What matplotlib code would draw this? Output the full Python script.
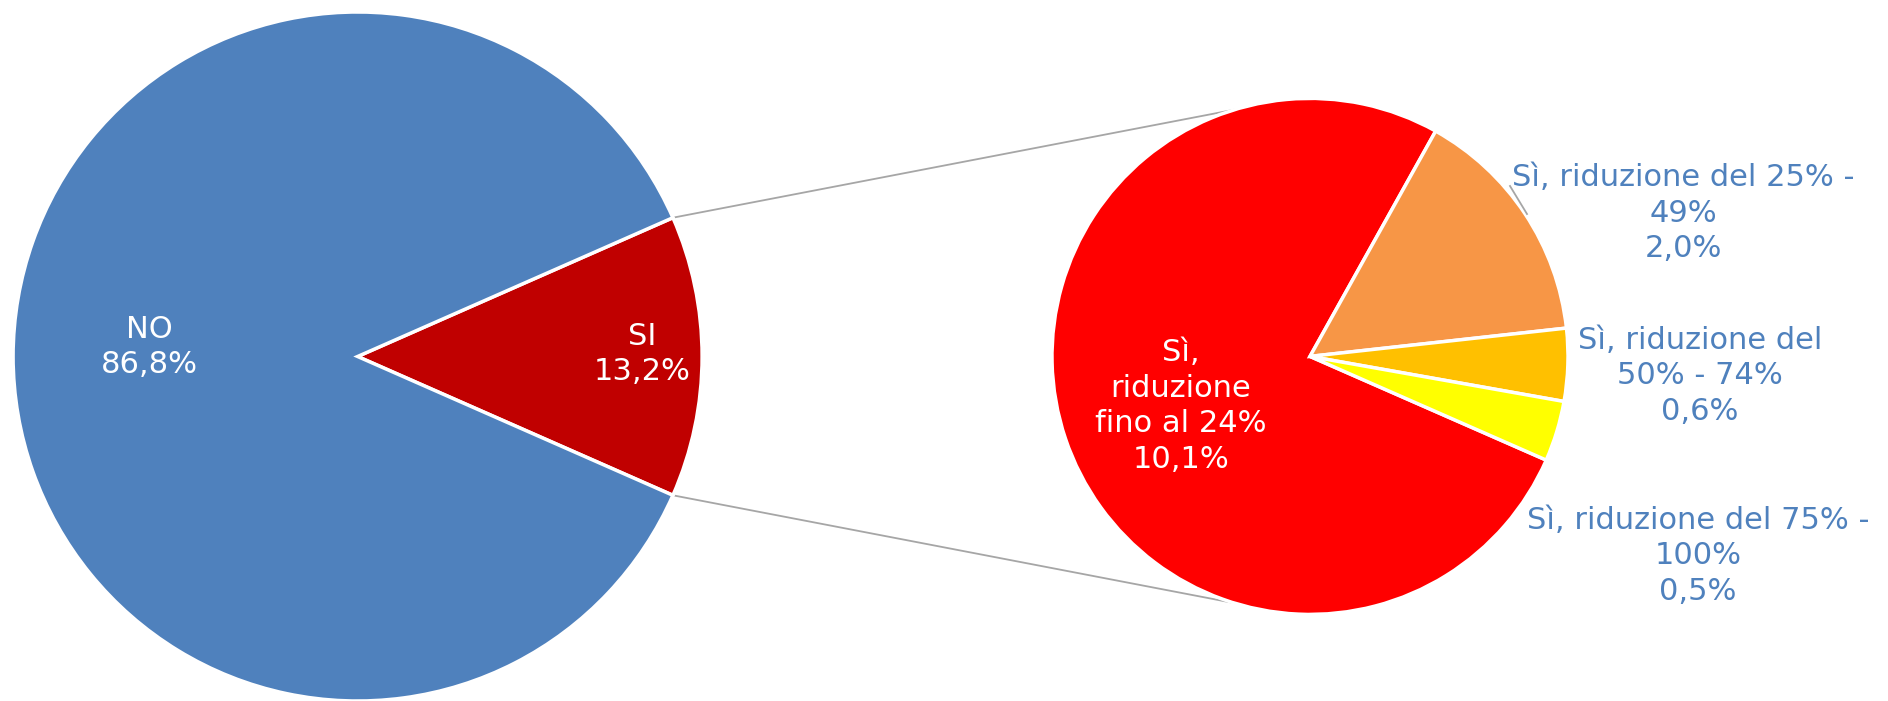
"""Pie of pie: SI / NO with breakdown of the SI slice."""

import numpy as np
import matplotlib
import matplotlib.pyplot as plt

matplotlib.rcParams["font.family"] = "DejaVu Sans"

# Data
main_labels = ["SI", "NO"]
main_values = [13.2, 86.8]
main_colors = ["#C00000", "#4F81BD"]

sub_labels = [
    "Sì,\nriduzione\nfino al 24%",
    "Sì, riduzione del 25% -\n49%",
    "Sì, riduzione del\n50% - 74%",
    "Sì, riduzione del 75% -\n100%",
]
sub_values = [10.1, 2.0, 0.6, 0.5]
sub_colors = ["#FF0000", "#F79646", "#FFC000", "#FFFF00"]

W, H = 1888, 701
label_blue = "#4F81BD"
font_size = 22
line_sp = 1.3

fig = plt.figure(figsize=(W / 100, H / 100), dpi=100)
ax = fig.add_axes([0, 0, 1, 1])

# Left pie, SI slice centred on the right side
c1, r1 = (357.6, 344.5), 344.5
si_angle = main_values[0] / sum(main_values) * 360
ax.pie(
    main_values,
    colors=main_colors,
    startangle=-si_angle / 2,
    center=c1,
    radius=r1,
    wedgeprops=dict(edgecolor="white", linewidth=2.5),
)

# Right pie, clockwise breakdown
c2, r2 = (1310, 344.6), 258
ax.pie(
    sub_values,
    colors=sub_colors,
    startangle=-23.7,
    counterclock=False,
    center=c2,
    radius=r2,
    wedgeprops=dict(edgecolor="white", linewidth=2.5),
)

# Connector lines between the two pies
for sign in (1, -1):
    a1 = np.radians(sign * si_angle / 2)
    a2 = np.radians(sign * 107)
    ax.plot(
        [c1[0] + r1 * np.cos(a1), c2[0] + r2 * np.cos(a2)],
        [c1[1] + r1 * np.sin(a1), c2[1] + r2 * np.sin(a2)],
        color="#A6A6A6", linewidth=1.3, zorder=0,
    )

def pct(v):
    return f"{v:.1f}%".replace(".", ",")

# Labels on the left pie
ax.text(149, 354, f"NO\n{pct(main_values[1])}", color="white",
        ha="center", va="center", fontsize=font_size, linespacing=line_sp)
ax.text(642, 347, f"{main_labels[0]}\n{pct(main_values[0])}", color="white",
        ha="center", va="center", fontsize=font_size, linespacing=line_sp)

# Labels on the right pie
ax.text(1181, 295, f"{sub_labels[0]}\n{pct(sub_values[0])}", color="white",
        ha="center", va="center", fontsize=font_size, linespacing=line_sp)
sub_pos = [(1683, 488), (1700, 325), (1698, 145)]
for (x, y), lab, v in zip(sub_pos, sub_labels[1:], sub_values[1:]):
    ax.text(x, y, f"{lab}\n{pct(v)}", color=label_blue,
            ha="center", va="center", fontsize=font_size, linespacing=line_sp)

# Leader line for the 25-49% label
ax.plot([1510, 1527], [515, 487], color="#A6A6A6", linewidth=1.3)

ax.set_xlim(0, W)
ax.set_ylim(0, H)
ax.set_aspect("equal")
ax.axis("off")

fig.savefig("out.png", dpi=100, facecolor="white")
